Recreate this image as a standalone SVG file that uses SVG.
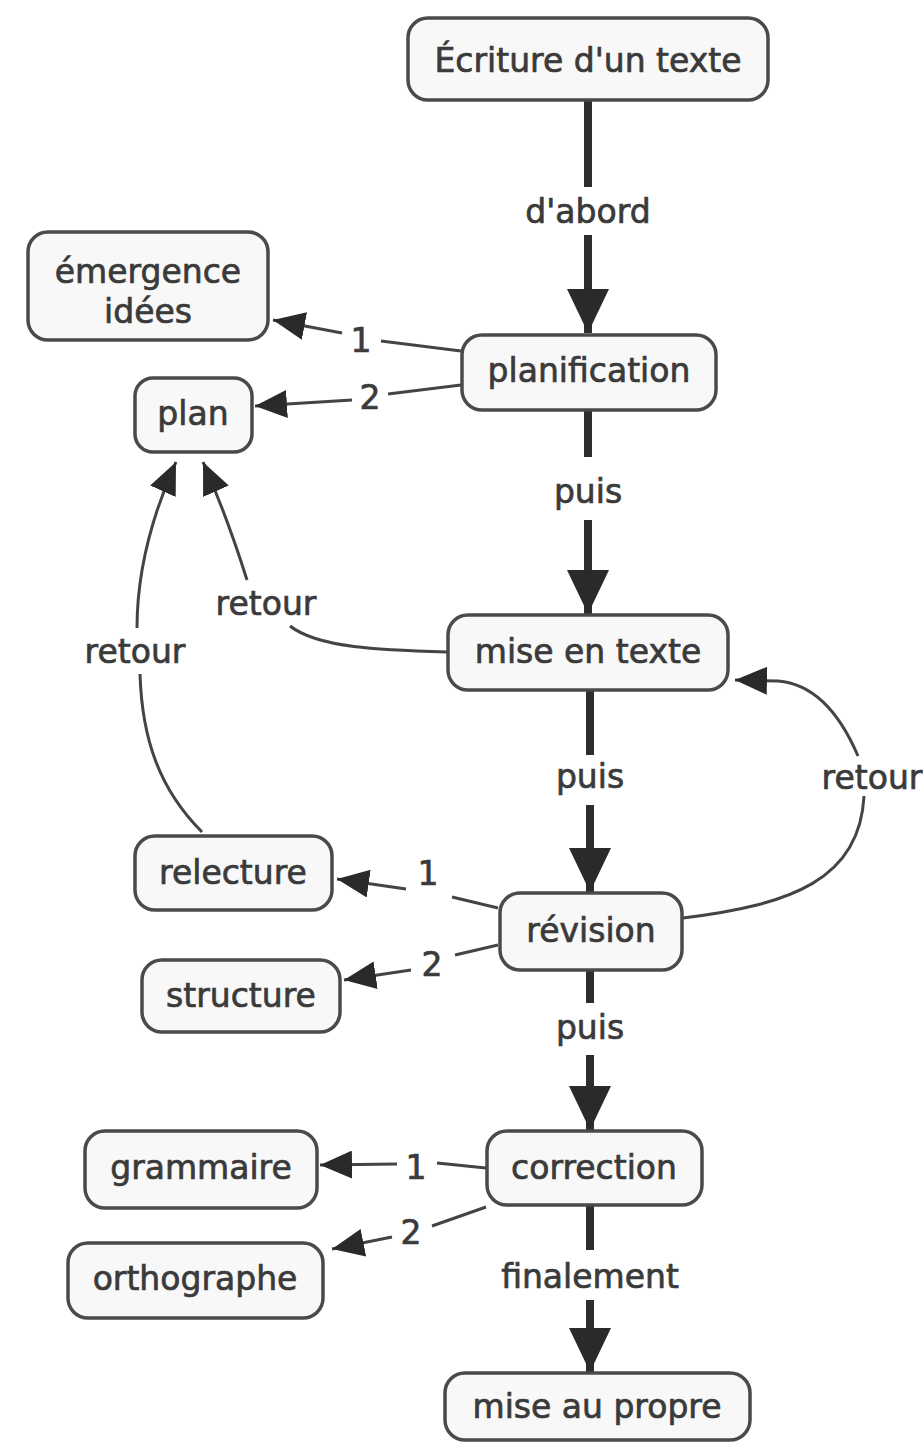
<svg xmlns="http://www.w3.org/2000/svg" width="924" height="1447" viewBox="0 0 924 1447">
<style>
.box{fill:#f8f8f8;stroke:#4a4a4a;stroke-width:3.5}
.t{font-family:"DejaVu Sans",Verdana,sans-serif;font-size:33px;fill:#3a3a3a;stroke:#3a3a3a;stroke-width:0.7;text-anchor:middle}
.thick{stroke:#2e2e2e;stroke-width:8;fill:none}
.thin{stroke:#444;stroke-width:3;fill:none}
</style>
<defs>
<marker id="big" viewBox="0 0 44 42" refX="44" refY="21" markerWidth="44" markerHeight="42" markerUnits="userSpaceOnUse" orient="auto">
<path d="M0,0 L44,21 L0,42 z" fill="#2a2a2a"/>
</marker>
<marker id="small" viewBox="0 0 32 28" refX="32" refY="14" markerWidth="32" markerHeight="28" markerUnits="userSpaceOnUse" orient="auto">
<path d="M0,0 L32,14 L0,28 z" fill="#2a2a2a"/>
</marker>
</defs>
<rect width="924" height="1447" fill="#ffffff"/>
<g id="connectors">
<path class="thick" d="M588,100 L588,187"/>
<path class="thick" d="M588,235 L588,333" marker-end="url(#big)"/>
<text class="t" x="588" y="223">d'abord</text>
<path class="thick" d="M588,410 L588,457"/>
<path class="thick" d="M588,520 L588,614" marker-end="url(#big)"/>
<text class="t" x="588" y="503">puis</text>
<path class="thick" d="M590,690 L590,755"/>
<path class="thick" d="M590,805 L590,892" marker-end="url(#big)"/>
<text class="t" x="590" y="788">puis</text>
<path class="thick" d="M590,971 L590,1003"/>
<path class="thick" d="M590,1055 L590,1130" marker-end="url(#big)"/>
<text class="t" x="590" y="1039">puis</text>
<path class="thick" d="M590,1205 L590,1250"/>
<path class="thick" d="M590,1300 L590,1372" marker-end="url(#big)"/>
<text class="t" x="590" y="1288">finalement</text>
<path class="thin" d="M461,351 L381,341"/>
<path class="thin" d="M342,333 L273,320" marker-end="url(#small)"/>
<text class="t" x="361" y="352">1</text>
<path class="thin" d="M461,385 L388,394"/>
<path class="thin" d="M352,400 L255,406" marker-end="url(#small)"/>
<text class="t" x="370" y="409">2</text>
<path class="thin" d="M447,652 C380,650 318,648 290,626"/>
<path class="thin" d="M247,580 C236,545 222,505 203,462" marker-end="url(#small)"/>
<text class="t" x="266" y="615">retour</text>
<path class="thin" d="M202,832 C160,790 142,740 140,674"/>
<path class="thin" d="M137,628 C137,575 150,520 176,462" marker-end="url(#small)"/>
<text class="t" x="135" y="663">retour</text>
<path class="thin" d="M683,918 C790,905 860,880 864,796"/>
<path class="thin" d="M858,756 C840,714 815,684 778,681 L735,680" marker-end="url(#small)"/>
<text class="t" x="872" y="789">retour</text>
<path class="thin" d="M498,908 L452,897"/>
<path class="thin" d="M406,889 L337,879" marker-end="url(#small)"/>
<text class="t" x="428" y="885">1</text>
<path class="thin" d="M498,945 L455,955"/>
<path class="thin" d="M411,970 L344,980" marker-end="url(#small)"/>
<text class="t" x="432" y="976">2</text>
<path class="thin" d="M486,1168 L437,1163"/>
<path class="thin" d="M397,1164 L320,1165" marker-end="url(#small)"/>
<text class="t" x="416" y="1179">1</text>
<path class="thin" d="M486,1207 L432,1226"/>
<path class="thin" d="M392,1237 L332,1249" marker-end="url(#small)"/>
<text class="t" x="411" y="1244">2</text>
</g>
<g id="n-ecriture"><rect class="box" x="408" y="18" width="360" height="82" rx="20"/><text class="t" x="588" y="72">Écriture d'un texte</text></g>
<g id="n-emergence"><rect class="box" x="28" y="232" width="240" height="108" rx="20"/><text class="t" x="148" y="283">émergence</text><text class="t" x="148" y="323">idées</text></g>
<g id="n-planification"><rect class="box" x="462" y="335" width="254" height="75" rx="20"/><text class="t" x="589" y="382">planification</text></g>
<g id="n-plan"><rect class="box" x="135" y="378" width="117" height="74" rx="18"/><text class="t" x="193" y="425">plan</text></g>
<g id="n-misetexte"><rect class="box" x="448" y="615" width="280" height="75" rx="20"/><text class="t" x="588" y="663">mise en texte</text></g>
<g id="n-relecture"><rect class="box" x="135" y="836" width="197" height="74" rx="20"/><text class="t" x="233" y="884">relecture</text></g>
<g id="n-revision"><rect class="box" x="500" y="893" width="182" height="77" rx="20"/><text class="t" x="591" y="942">révision</text></g>
<g id="n-structure"><rect class="box" x="142" y="960" width="198" height="72" rx="20"/><text class="t" x="241" y="1007">structure</text></g>
<g id="n-grammaire"><rect class="box" x="85" y="1131" width="232" height="77" rx="20"/><text class="t" x="201" y="1179">grammaire</text></g>
<g id="n-correction"><rect class="box" x="487" y="1131" width="215" height="74" rx="20"/><text class="t" x="594" y="1179">correction</text></g>
<g id="n-orthographe"><rect class="box" x="68" y="1243" width="255" height="75" rx="20"/><text class="t" x="195" y="1290">orthographe</text></g>
<g id="n-miseaupropre"><rect class="box" x="445" y="1373" width="305" height="67" rx="20"/><text class="t" x="597" y="1418">mise au propre</text></g>
</svg>
